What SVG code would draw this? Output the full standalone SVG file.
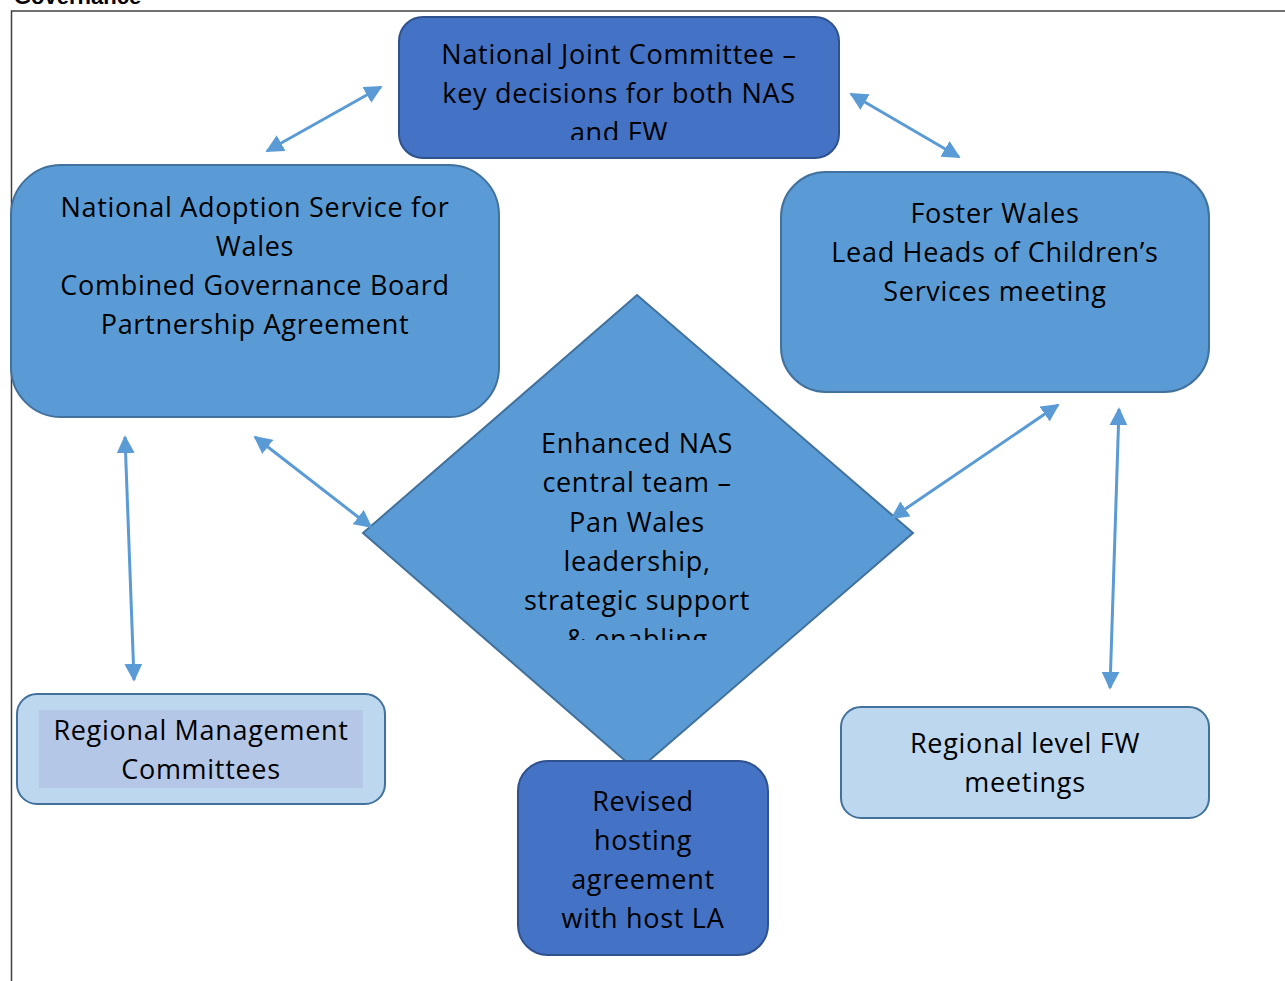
<svg xmlns="http://www.w3.org/2000/svg" width="1285" height="981" viewBox="0 0 1285 981">
<style>
.t{font-family:"Open Sans","Liberation Sans",Arial,sans-serif;font-size:27px;letter-spacing:0.7px;fill:#000;text-anchor:middle}
.dark{fill:#4472C4;stroke:#2F528F;stroke-width:2}
.mid{fill:#5B9BD5;stroke:#41719C;stroke-width:2}
.light{fill:#BDD7EE;stroke:#41719C;stroke-width:2}
.c{stroke:#5B9BD5;stroke-width:3;fill:none;marker-start:url(#ah);marker-end:url(#ah)}
</style>
<defs>
<marker id="ah" viewBox="0 0 10 10" refX="9" refY="5" markerWidth="6" markerHeight="6" orient="auto-start-reverse" markerUnits="strokeWidth"><path d="M0,0 L10,5 L0,10 z" fill="#5B9BD5"/></marker>
<clipPath id="cNJC"><rect x="400" y="18" width="438" height="122"/></clipPath>
<clipPath id="cDia"><rect x="363" y="295" width="550" height="345"/></clipPath>
</defs>
<rect width="1285" height="981" fill="#fff"/>
<text x="14" y="4" style="font-family:'Liberation Sans',Arial,sans-serif;font-size:22px;font-weight:bold">Governance</text>
<path d="M1285,11 H11.5 V981" fill="none" stroke="#404040" stroke-width="1.5"/>
<g id="njc">
<rect class="dark" x="399" y="17" width="440" height="141" rx="24"/>
<g clip-path="url(#cNJC)">
<text class="t" x="619" y="64">National Joint Committee –</text>
<text class="t" x="619" y="103">key decisions for both NAS</text>
<text class="t" x="619" y="142">and FW</text>
</g>
</g>
<g id="nas">
<rect class="mid" x="11" y="165" width="488" height="252" rx="50"/>
<text class="t" x="255" y="217">National Adoption Service for</text>
<text class="t" x="255" y="256">Wales</text>
<text class="t" x="255" y="295">Combined Governance Board</text>
<text class="t" x="255" y="334">Partnership Agreement</text>
</g>
<g id="fw">
<rect class="mid" x="781" y="172" width="428" height="220" rx="45"/>
<text class="t" x="995" y="223">Foster Wales</text>
<text class="t" x="995" y="262">Lead Heads of Children’s</text>
<text class="t" x="995" y="301">Services meeting</text>
</g>
<g id="central">
<polygon class="mid" points="637,295 913,533 637,771 363,533"/>
<g clip-path="url(#cDia)">
<text class="t" x="637" y="453">Enhanced NAS</text>
<text class="t" x="637" y="492">central team –</text>
<text class="t" x="637" y="532">Pan Wales</text>
<text class="t" x="637" y="571">leadership,</text>
<text class="t" x="637" y="610">strategic support</text>
<text class="t" x="637" y="649">&amp; enabling</text>
</g>
</g>
<g id="hosting">
<rect class="dark" x="518" y="761" width="250" height="194" rx="30"/>
<text class="t" x="643" y="811">Revised</text>
<text class="t" x="643" y="850">hosting</text>
<text class="t" x="643" y="889">agreement</text>
<text class="t" x="643" y="928">with host LA</text>
</g>
<g id="rmc">
<rect class="light" x="17" y="694" width="368" height="110" rx="20"/>
<rect x="39" y="710" width="324" height="78" fill="#B4C7E7"/>
<text class="t" x="201" y="740">Regional Management</text>
<text class="t" x="201" y="779">Committees</text>
</g>
<g id="rfw">
<rect class="light" x="841" y="707" width="368" height="111" rx="20"/>
<text class="t" x="1025" y="753">Regional level FW</text>
<text class="t" x="1025" y="792">meetings</text>
</g>
<g id="connectors">
<line class="c" x1="267" y1="151" x2="381" y2="87"/>
<line class="c" x1="851" y1="94" x2="959" y2="157"/>
<line class="c" x1="255" y1="437" x2="371" y2="527"/>
<line class="c" x1="892" y1="518" x2="1058" y2="405"/>
<line class="c" x1="1119" y1="409" x2="1110" y2="688"/>
<line class="c" x1="125" y1="437" x2="134" y2="680"/>
</g>
</svg>
